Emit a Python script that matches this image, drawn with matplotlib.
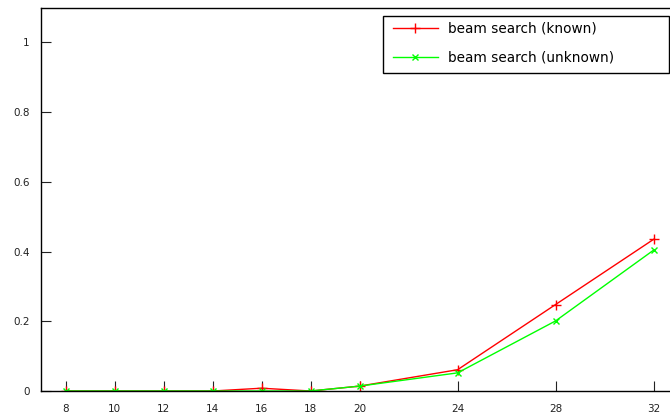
import matplotlib
matplotlib.use("Agg")
import matplotlib.pyplot as plt
from matplotlib.patches import Rectangle

sizes = [8, 10, 12, 14, 16, 18, 20, 24, 28, 32]
known = [0.0, 0.0, 0.0, 0.0, 0.008, 0.0, 0.014, 0.061, 0.248, 0.435]
unknown = [0.0, 0.0, 0.0, 0.0, 0.0, 0.0, 0.014, 0.052, 0.201, 0.404]
yticks = [0, 0.2, 0.4, 0.6, 0.8, 1]
ytick_labels = ["0", "0.2", "0.4", "0.6", "0.8", "1"]

W, H = 670, 418
fig = plt.figure(figsize=(W / 100, H / 100), dpi=100)
left, right, top, bottom = 41, 670, 7.5, 391
ax = fig.add_axes([left / W, (H - bottom) / H, (right - left) / W, (bottom - top) / H])

ax.plot(sizes, known, color="#ff0000", lw=1, marker="+", ms=6.5, mew=1, label="beam search (known)")
ax.plot(sizes, unknown, color="#00ff00", lw=1, marker="x", ms=5, mew=1, label="beam search (unknown)")

ax.set_xlim(7, 32.67)
ax.set_ylim(0, 1.1)
ax.set_xticks(sizes)
ax.set_xticklabels([str(s) for s in sizes])
ax.set_yticks(yticks)
ax.set_yticklabels(ytick_labels)
ax.tick_params(direction="in", length=7, width=0.8, labelsize=7.5, colors="#222222", pad=8)
ax.tick_params(axis="x", pad=9)
ax.spines["right"].set_visible(False)
for s in ["left", "bottom", "top"]:
    ax.spines[s].set_linewidth(1)
    ax.spines[s].set_color("black")

# legend (gnuplot-style key with wide box)
leg = fig.legend(handles=ax.get_lines(), loc="upper left",
                 bbox_to_anchor=(393 / W, 1 - 22 / H), bbox_transform=fig.transFigure,
                 fontsize=9.8, frameon=False, handlelength=3.3, handletextpad=0.75,
                 borderpad=0.0, labelspacing=1.1, borderaxespad=0.0)
box = Rectangle((383 / W, 1 - 72.7 / H), (669 - 383) / W, (72.7 - 15.7) / H,
                transform=fig.transFigure, fill=False, edgecolor="black", lw=1)
fig.add_artist(box)
fig.savefig("out.png", dpi=100)
